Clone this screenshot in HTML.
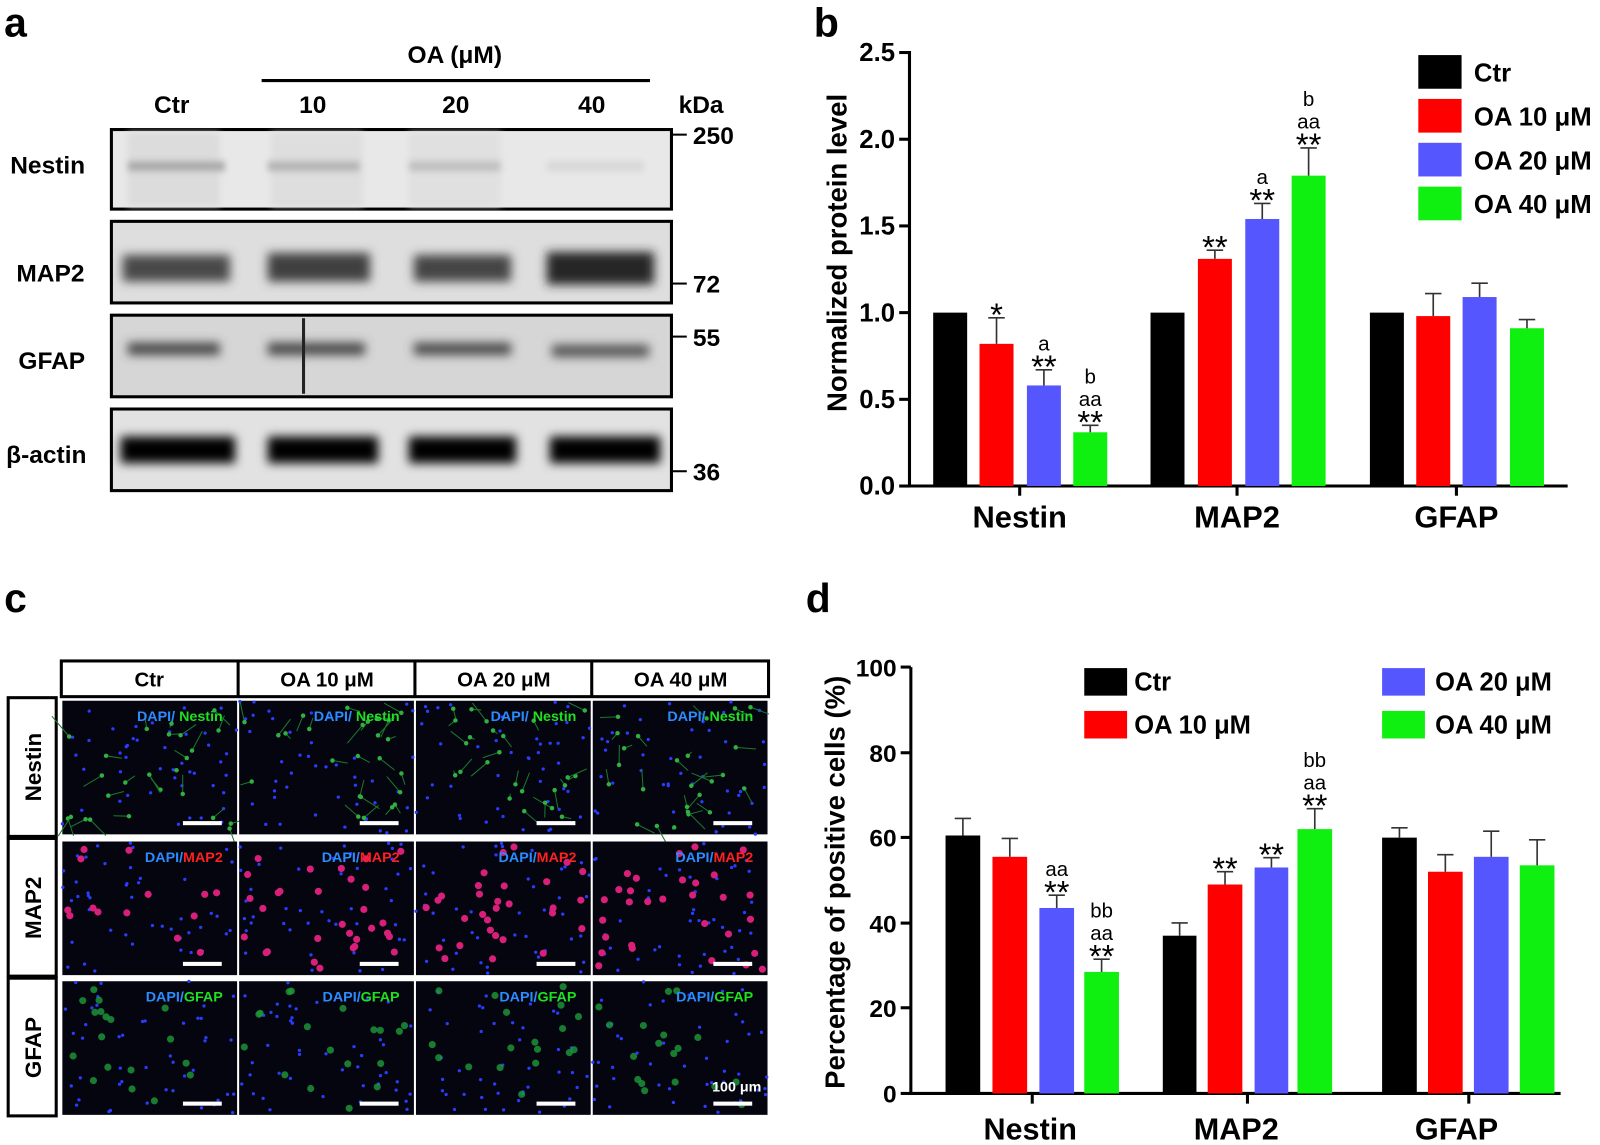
<!DOCTYPE html>
<html><head><meta charset="utf-8"><style>
html,body{margin:0;padding:0;background:#fff;}
svg{display:block;font-family:"Liberation Sans",Arial,sans-serif;font-weight:bold;}
</style></head><body>
<svg id="s" width="1600" height="1145" viewBox="0 0 1600 1145" xmlns="http://www.w3.org/2000/svg">
<defs>
<filter id="bl" x="-20%" y="-50%" width="140%" height="200%"><feGaussianBlur stdDeviation="5"/></filter>
<filter id="bl2" x="-20%" y="-50%" width="140%" height="200%"><feGaussianBlur stdDeviation="3"/></filter>
</defs>
<g transform="scale(1.022,1.02)">
<text x="4" y="36" font-size="40">a</text>
<text x="4" y="600" font-size="40">c</text>
<!-- ===== Panel a ===== -->
<text x="445" y="62" font-size="24" text-anchor="middle">OA (μM)</text>
<line x1="256" y1="79" x2="636" y2="79" stroke="#000" stroke-width="3"/>
<g font-size="24" text-anchor="middle">
<text x="168" y="111">Ctr</text><text x="306" y="111">10</text><text x="446" y="111">20</text><text x="579" y="111">40</text>
<text x="686" y="111">kDa</text>
</g>
<g font-size="24">
<text x="10" y="170">Nestin</text><text x="16" y="276">MAP2</text><text x="18" y="362">GFAP</text><text x="6" y="454">β-actin</text>
<text x="678" y="141">250</text><text x="678" y="287">72</text><text x="678" y="339">55</text><text x="678" y="471">36</text>
</g>
<g stroke="#000" stroke-width="2">
<line x1="658" y1="132" x2="672" y2="132"/><line x1="658" y1="278" x2="672" y2="278"/><line x1="658" y1="330" x2="672" y2="330"/><line x1="658" y1="462" x2="672" y2="462"/>
</g>
<rect x="109" y="127" width="548" height="78" fill="#e8e8e8" stroke="#000" stroke-width="3"/>
<rect x="109" y="217" width="548" height="80" fill="#dedede" stroke="#000" stroke-width="3"/>
<rect x="109" y="309" width="548" height="80" fill="#d6d6d6" stroke="#000" stroke-width="3"/>
<rect x="109" y="401" width="548" height="80" fill="#e2e2e2" stroke="#000" stroke-width="3"/>
<g filter="url(#bl2)">
<rect x="125" y="130" width="90" height="72" fill="#dcdcdc"/><rect x="265" y="130" width="90" height="72" fill="#dedede"/><rect x="400" y="130" width="90" height="72" fill="#e0e0e0"/>
<rect x="125" y="158" width="95" height="10" fill="#aaa"/><rect x="262" y="158" width="90" height="10" fill="#b4b4b4"/>
<rect x="400" y="158" width="90" height="10" fill="#c0c0c0"/><rect x="535" y="158" width="95" height="10" fill="#d8d8d8"/>
</g>
<g filter="url(#bl)">
<rect x="120" y="250" width="105" height="26" fill="#4a4a4a"/><rect x="262" y="248" width="100" height="28" fill="#404040"/>
<rect x="405" y="250" width="95" height="26" fill="#454545"/><rect x="535" y="247" width="105" height="32" fill="#262626"/>
<rect x="125" y="336" width="90" height="12" fill="#444"/><rect x="262" y="336" width="95" height="12" fill="#444"/>
<rect x="405" y="336" width="95" height="12" fill="#4a4a4a"/><rect x="540" y="338" width="95" height="12" fill="#555"/>
<rect x="118" y="428" width="112" height="26" fill="#000"/><rect x="262" y="428" width="108" height="26" fill="#000"/>
<rect x="400" y="428" width="105" height="26" fill="#000"/><rect x="538" y="428" width="108" height="26" fill="#000"/>
</g>
<line x1="297" y1="312" x2="297" y2="386" stroke="#222" stroke-width="3"/>

<!-- ===== Panel c ===== -->
<g font-size="20" text-anchor="middle">
<rect x="60" y="648" width="692" height="35" fill="#fff" stroke="#000" stroke-width="3"/>
<line x1="233" y1="648" x2="233" y2="683" stroke="#000" stroke-width="3"/><line x1="406" y1="648" x2="406" y2="683" stroke="#000" stroke-width="3"/><line x1="579" y1="648" x2="579" y2="683" stroke="#000" stroke-width="3"/>
<text x="146" y="673">Ctr</text><text x="320" y="673">OA 10 μM</text><text x="493" y="673">OA 20 μM</text><text x="666" y="673">OA 40 μM</text>
<rect x="8" y="684" width="47" height="136" fill="#fff" stroke="#000" stroke-width="3"/>
<rect x="8" y="822" width="47" height="135" fill="#fff" stroke="#000" stroke-width="3"/>
<rect x="8" y="959" width="47" height="135" fill="#fff" stroke="#000" stroke-width="3"/>
<text transform="translate(40,752) rotate(-90)" font-size="22">Nestin</text>
<text transform="translate(40,890) rotate(-90)" font-size="22">MAP2</text>
<text transform="translate(40,1027) rotate(-90)" font-size="22">GFAP</text>
</g>
<g id="imgs"></g>
</g>

<!-- ===== Panel b ===== -->
<g transform="scale(1.03,1.02)">
<text x="790" y="36" font-size="40">b</text>
<g font-size="25">
<line x1="883" y1="50" x2="883" y2="478" stroke="#000" stroke-width="3"/>
<line x1="882" y1="476.5" x2="1522" y2="476.5" stroke="#000" stroke-width="3"/>
<g stroke="#000" stroke-width="3">
<line x1="873" y1="51.5" x2="883" y2="51.5"/><line x1="873" y1="136.5" x2="883" y2="136.5"/><line x1="873" y1="221.5" x2="883" y2="221.5"/>
<line x1="873" y1="306.5" x2="883" y2="306.5"/><line x1="873" y1="391.5" x2="883" y2="391.5"/><line x1="873" y1="476.5" x2="883" y2="476.5"/>
<line x1="990" y1="476" x2="990" y2="486"/><line x1="1201" y1="476" x2="1201" y2="486"/><line x1="1414" y1="476" x2="1414" y2="486"/>
</g>
<g text-anchor="end">
<text x="869" y="60">2.5</text><text x="869" y="145">2.0</text><text x="869" y="230">1.5</text><text x="869" y="315">1.0</text><text x="869" y="400">0.5</text><text x="869" y="485">0.0</text>
</g>
<text transform="translate(822,248) rotate(-90)" font-size="27" text-anchor="middle">Normalized protein level</text>
<g font-size="30" text-anchor="middle"><text x="990" y="517">Nestin</text><text x="1201" y="517">MAP2</text><text x="1414" y="517">GFAP</text></g>
</g>
<g id="bbars"></g>
<g font-size="25">
<rect x="1377" y="54" width="42" height="33" fill="#000"/><text x="1431" y="80">Ctr</text>
<rect x="1377" y="97" width="42" height="33" fill="#f00"/><text x="1431" y="123">OA 10 μM</text>
<rect x="1377" y="140" width="42" height="33" fill="#5656ff"/><text x="1431" y="166">OA 20 μM</text>
<rect x="1377" y="183" width="42" height="33" fill="#10f010"/><text x="1431" y="209">OA 40 μM</text>
</g>
</g>

<!-- ===== Panel d ===== -->
<g transform="scale(1.02,1.02)">
<text x="790" y="600" font-size="40">d</text>
<g font-size="24">
<line x1="893" y1="654" x2="893" y2="1073" stroke="#000" stroke-width="3"/>
<line x1="892" y1="1072" x2="1530" y2="1072" stroke="#000" stroke-width="3"/>
<g stroke="#000" stroke-width="3">
<line x1="883" y1="654" x2="893" y2="654"/><line x1="883" y1="738" x2="893" y2="738"/><line x1="883" y1="821" x2="893" y2="821"/>
<line x1="883" y1="905" x2="893" y2="905"/><line x1="883" y1="988" x2="893" y2="988"/><line x1="883" y1="1072" x2="893" y2="1072"/>
<line x1="1012" y1="1072" x2="1012" y2="1082"/><line x1="1223" y1="1072" x2="1223" y2="1082"/><line x1="1440" y1="1072" x2="1440" y2="1082"/>
</g>
<g text-anchor="end">
<text x="879" y="663">100</text><text x="879" y="747">80</text><text x="879" y="830">60</text><text x="879" y="914">40</text><text x="879" y="997">20</text><text x="879" y="1081">0</text>
</g>
<text transform="translate(828,865) rotate(-90)" font-size="27" text-anchor="middle">Percentage of positive cells (%)</text>
<g font-size="30" text-anchor="middle"><text x="1010" y="1117">Nestin</text><text x="1212" y="1117">MAP2</text><text x="1428" y="1117">GFAP</text></g>
</g>
<g id="dbars"></g>
<g font-size="25">
<rect x="1063" y="655" width="42" height="27" fill="#000"/><text x="1112" y="677">Ctr</text>
<rect x="1063" y="697" width="42" height="27" fill="#f00"/><text x="1112" y="719">OA 10 μM</text>
<rect x="1355" y="655" width="42" height="27" fill="#5656ff"/><text x="1407" y="677">OA 20 μM</text>
<rect x="1355" y="697" width="42" height="27" fill="#10f010"/><text x="1407" y="719">OA 40 μM</text>
</g>
</g>
</svg>
<script>
var NS="http://www.w3.org/2000/svg";
function el(p,t,a,txt){var e=document.createElementNS(NS,t);for(var k in a)e.setAttribute(k,a[k]);if(txt)e.textContent=txt;p.appendChild(e);return e;}
var cols=["#000","#f00","#5656ff","#10f010"];
function bars(g,y0,scale,groups,errs,ann){
 groups.forEach(function(gr,gi){gr.forEach(function(b,i){
  var x=b[0],v=b[1],w=b[2]||33,top=y0-v*scale;
  el(g,"rect",{x:x,y:top,width:w,height:y0-top,fill:cols[i]});
  var e=errs[gi][i],et=top-e*scale;
  if(e>0){var cx=x+w/2;el(g,"line",{x1:cx,y1:top,x2:cx,y2:et,stroke:"#333","stroke-width":1.6});el(g,"line",{x1:cx-8,y1:et,x2:cx+8,y2:et,stroke:"#333","stroke-width":1.6});}
  var a=ann[gi][i];if(a){var yy=et+8;for(var j=a.length-1;j>=0;j--){var s=a[j];var star=s.indexOf("*")>=0;
   el(g,"text",{x:x+w/2,y:yy,"font-size":star?32:20,"text-anchor":"middle","font-weight":"normal"},s);
   yy-=star?27:22;}}
 });});
}
bars(document.getElementById("bbars"),476.5,170,
 [[[906,1.0],[951,0.82],[997,0.58],[1042,0.31]],[[1117,1.0],[1163,1.31],[1209,1.54],[1254,1.79]],[[1330,1.0],[1375,0.98],[1420,1.09],[1466,0.91]]],
 [[0,0.15,0.09,0.04],[0,0.05,0.09,0.16],[0,0.13,0.08,0.05]],
 [[null,["*"],["a","**"],["b","aa","**"]],[null,["**"],["a","**"],["b","aa","**"]],[null,null,null,null]]);
bars(document.getElementById("dbars"),1072,4.18,
 [[[927,60.5,34],[973,55.5,34],[1019,43.5,34],[1063,28.5,34]],[[1140,37,33],[1184,49,34],[1230,53,33],[1272,62,34]],[[1355,60,34],[1400,52,34],[1445,55.5,34],[1490,53.5,34]]],
 [[4,4.3,3,3],[3,3,2.3,4.8],[2.3,4,6,6]],
 [[null,null,["aa","**"],["bb","aa","**"]],[null,["**"],["**"],["bb","aa","**"]],[null,null,null,null]]);
var seed=7;function r(){seed=(seed*16807)%2147483647;return seed/2147483647;}
var g=document.getElementById("imgs");
var xs=[61,234,407,580],ys=[687,825,962],labels=["Nestin","MAP2","GFAP"],lc=["#1ee01e","#ff2020","#1ee01e"];
ys.forEach(function(y,ri){xs.forEach(function(x,ci){
 el(g,"rect",{x:x,y:y,width:171,height:131,fill:"#050510"});
 for(var n=0;n<45;n++)el(g,"circle",{cx:x+r()*171,cy:y+r()*131,r:1.6,fill:"#2a3cff"});
 var cnt=ri==1?(ci==0?14:30):(ri==0?25:18);
 for(var n=0;n<cnt;n++){var cx=x+5+r()*161,cy=y+5+r()*121;
  if(ri==0){el(g,"line",{x1:cx,y1:cy,x2:cx+(r()-0.5)*40,y2:cy+(r()-0.5)*40,stroke:"#1a7a2a","stroke-width":1});el(g,"circle",{cx:cx,cy:cy,r:2.2,fill:"#30b040"});}
  else if(ri==1){el(g,"circle",{cx:cx,cy:cy,r:3.5,fill:"#d8207a"});}
  else{el(g,"circle",{cx:cx,cy:cy,r:3.5,fill:"#1d9a3a",opacity:0.8});}
 }
 var t=el(g,"text",{x:x+157,y:y+20,"font-size":14,"text-anchor":"end"});
 el(t,"tspan",{fill:"#2a8cff"},"DAPI/");el(t,"tspan",{fill:lc[ri]},(ri==0?" ":"")+labels[ri]);
 el(g,"rect",{x:x+118,y:y+118,width:38,height:4,fill:"#fff"});
});});
el(g,"text",{x:745,y:1070,"font-size":14,fill:"#fff","text-anchor":"end"},"100 μm");
</script>
</body></html>
